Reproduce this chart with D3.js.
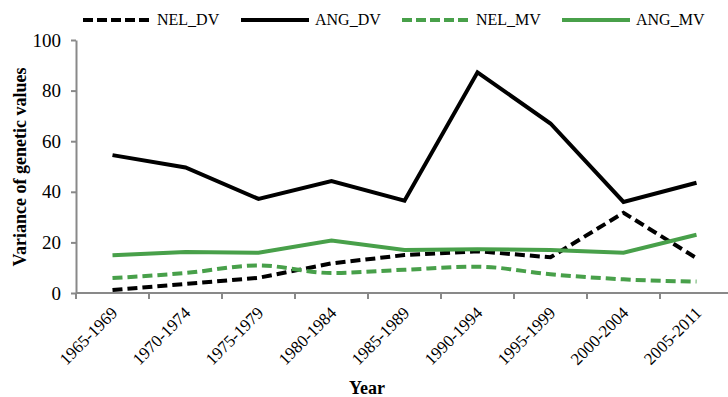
<!DOCTYPE html>
<html lang="en">
<head>
<meta charset="UTF-8">
<title>Variance of genetic values</title>
<style>
  body { margin: 0; background: #fff; }
  svg text { font-family: "Liberation Serif", "Times New Roman", serif !important; fill: #000; }
  .axis path, .axis line { stroke: #898989; stroke-width: 2px; }
  .series { fill: none; stroke-width: 4px; }
</style>
</head>
<body>
<svg></svg>
<script src="https://cdnjs.cloudflare.com/ajax/libs/d3/7.8.5/d3.min.js"></script>
<script>

var width = 728,
    height = 397;

var periods = ["1965-1969", "1970-1974", "1975-1979", "1980-1984", "1985-1989",
               "1990-1994", "1995-1999", "2000-2004", "2005-2011"];

var nelDV = [1.2, 3.6, 6.0, 11.7, 15.0, 16.5, 14.1, 31.7, 13.8];
var angDV = [54.5, 49.6, 37.2, 44.2, 36.5, 87.2, 67.0, 36.0, 43.6];
var nelMV = [5.9, 7.9, 10.9, 7.9, 9.2, 10.4, 7.4, 5.4, 4.5];
var angMV = [14.9, 16.2, 15.9, 20.7, 17.0, 17.3, 17.0, 15.9, 23.0];

var yTicks = [0, 20, 40, 60, 80, 100];

var series = [
  { name: "NEL_DV", values: nelDV, color: "#000", dashed: true },
  { name: "ANG_DV", values: angDV, color: "#000", dashed: false },
  { name: "NEL_MV", values: nelMV, color: "#48a04a", dashed: true },
  { name: "ANG_MV", values: angMV, color: "#48a04a", dashed: false }
];

var svg = d3.select("svg")
  .attr("width", width)
  .attr("height", height);

var x = d3.scaleBand()
  .domain(periods)
  .range([76, 733])
  .padding(0);

var y = d3.scaleLinear()
  .domain([0, 100])
  .range([293, 40]);

// y axis
var yAxis = svg.append("g")
  .attr("class", "axis")
  .attr("transform", "translate(76,0)")
  .call(d3.axisLeft(y).tickValues(yTicks).tickSize(5).tickPadding(10).tickSizeOuter(0));
yAxis.attr("font-family", null).attr("font-size", null);
yAxis.selectAll("text").style("font-size", "19px");

// x axis, ticks between the categories
var xAxis = svg.append("g")
  .attr("class", "axis")
  .attr("transform", "translate(0,293)");
xAxis.append("line")
  .attr("x1", 76).attr("x2", 733);
xAxis.selectAll(".tk")
  .data(periods)
  .enter()
  .append("line")
    .attr("class", "tk")
    .attr("x1", function(d) { return x(d); })
    .attr("x2", function(d) { return x(d); })
    .attr("y1", 0)
    .attr("y2", 6);
xAxis.selectAll(".lbl")
  .data(periods)
  .enter()
  .append("text")
    .attr("class", "lbl")
    .attr("text-anchor", "end")
    .style("font-size", "17px")
    .attr("transform", function(d) {
      return "translate(" + (x(d) + x.bandwidth() / 2 + 6) + ",21) rotate(-45)";
    })
    .text(function(d) { return d; });

// axis titles
svg.append("text")
  .attr("transform", "translate(26,167) rotate(-90)")
  .attr("text-anchor", "middle")
  .style("font-size", "18px")
  .style("font-weight", "bold")
  .text("Variance of genetic values");

svg.append("text")
  .attr("x", 367)
  .attr("y", 394)
  .attr("text-anchor", "middle")
  .style("font-size", "18px")
  .style("font-weight", "bold")
  .text("Year");

// lines
var cx = function(i) { return x(periods[i]) + x.bandwidth() / 2; };

series.forEach(function(s) {
  var line = d3.line()
    .x(function(d, i) { return cx(i); })
    .y(function(d) { return y(d); })
    .curve(s.name === "NEL_MV" ? d3.curveMonotoneX : d3.curveLinear);

  svg.append("path")
    .datum(s.values)
    .attr("class", "series")
    .attr("d", line)
    .style("stroke", s.color)
    .style("stroke-dasharray", s.dashed ? "10,5" : null);
});

// legend
var legendX = [83, 241, 402, 562];
var legend = svg.selectAll(".legend")
  .data(series)
  .enter()
  .append("g")
    .attr("class", "legend")
    .attr("transform", function(d, i) { return "translate(" + legendX[i] + ",20)"; });

legend.append("line")
  .attr("x1", 0)
  .attr("x2", 68)
  .style("stroke", function(d) { return d.color; })
  .style("stroke-width", "4px")
  .style("stroke-dasharray", function(d) { return d.dashed ? "10,4" : null; });

legend.append("text")
  .attr("x", 74)
  .attr("y", 5)
  .style("font-size", "16px")
  .text(function(d) { return d.name; });

</script>
</body>
</html>
